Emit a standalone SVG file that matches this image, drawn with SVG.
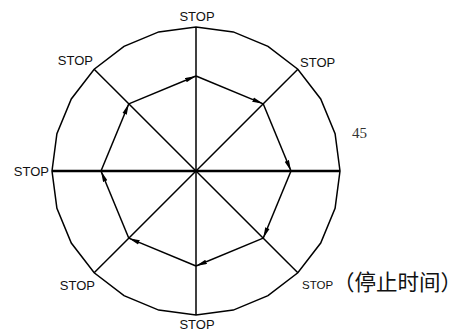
<svg xmlns="http://www.w3.org/2000/svg" width="465" height="331" viewBox="0 0 465 331">
<style>
.l{stroke:#000;stroke-width:1.5;fill:none}
.h{stroke:#000;stroke-width:2.6;fill:none}
.a{stroke:#000;stroke-width:1.5;fill:none;marker-end:url(#ah)}
.t{font-family:"Liberation Sans",Arial,sans-serif;font-size:13px;fill:#111}
.s{font-family:"Liberation Sans",Arial,sans-serif;font-size:11.5px;fill:#111}
.c{font-family:"Noto Sans CJK SC",sans-serif;font-size:21.5px;fill:#111}
.n{font-family:"Liberation Serif",serif;font-size:15px;fill:#333}
</style>
<defs>
<marker id="ah" markerUnits="userSpaceOnUse" markerWidth="13" markerHeight="7" refX="11" refY="2.6" orient="auto">
<path d="M0,0.3 L11,2.6 L0,4.9 z" fill="#000"/>
</marker>
</defs>
<polygon id="outer" class="l" points="340,171 335.09,133.73 320.71,99 297.82,69.18 268,46.29 233.27,31.91 196,27 158.73,31.91 124,46.29 94.18,69.18 71.29,99 56.91,133.73 52,171 56.91,208.27 71.29,243 94.18,272.82 124,295.71 158.73,310.09 196,315 233.27,310.09 268,295.71 297.82,272.82 320.71,243 335.09,208.27"/>
<g id="connectors">
<line class="l" x1="196" y1="27" x2="196" y2="315"/>
<line class="h" x1="52" y1="171" x2="340" y2="171"/>
<line class="l" x1="94.18" y1="69.18" x2="297.82" y2="272.82"/>
<line class="l" x1="297.82" y1="69.18" x2="94.18" y2="272.82"/>
<line class="a" x1="128.82" y1="103.82" x2="196" y2="76"/>
<line class="a" x1="196" y1="76" x2="263.18" y2="103.82"/>
<line class="a" x1="263.18" y1="103.82" x2="291" y2="171"/>
<line class="a" x1="291" y1="171" x2="263.18" y2="238.18"/>
<line class="a" x1="263.18" y1="238.18" x2="196" y2="266"/>
<line class="a" x1="196" y1="266" x2="128.82" y2="238.18"/>
<line class="a" x1="128.82" y1="238.18" x2="101" y2="171"/>
<line class="a" x1="101" y1="171" x2="128.82" y2="103.82"/>
</g>
<g id="stop-top"><text class="t" x="197" y="21" text-anchor="middle">STOP</text></g>
<g id="stop-upper-right"><text class="t" x="300" y="67">STOP</text></g>
<g id="label-45"><text class="n" x="352" y="138">45</text></g>
<g id="stop-lower-right"><text class="s" x="302" y="289">STOP</text><text class="c" x="333" y="290">（停止时间）</text></g>
<g id="stop-bottom"><text class="t" x="197" y="329" text-anchor="middle">STOP</text></g>
<g id="stop-lower-left"><text class="t" x="95" y="290" text-anchor="end">STOP</text></g>
<g id="stop-left"><text class="t" x="49" y="176" text-anchor="end">STOP</text></g>
<g id="stop-upper-left"><text class="t" x="93" y="65" text-anchor="end">STOP</text></g>
</svg>
